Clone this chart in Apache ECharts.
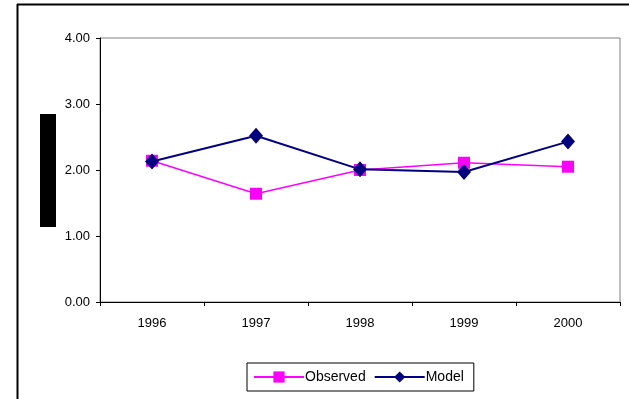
<!DOCTYPE html>
<html>
<head>
<meta charset="utf-8">
<script src="https://cdn.jsdelivr.net/npm/echarts@6/dist/echarts.min.js"></script>
<style>html,body{margin:0;padding:0;background:#fff;}#c{width:629px;height:399px;}</style>
</head>
<body>
<div id="c"></div>
<script>
const categories = ['1996', '1997', '1998', '1999', '2000'];
const observed = [2.14, 1.64, 2.00, 2.11, 2.05];
const model = [2.13, 2.52, 2.01, 1.97, 2.43];
const yTicks = [0, 1, 2, 3, 4];

const chart = echarts.init(document.getElementById('c'), null, {renderer: 'canvas'});
const font = 'Liberation Sans, Arial, sans-serif';
chart.setOption({
  animation: false,
  backgroundColor: '#fff',
  grid: {left: 100, top: 38, right: 9, bottom: 97, show: true, borderColor: '#808080', borderWidth: 1, backgroundColor: 'transparent'},
  xAxis: {
    type: 'category', data: categories, boundaryGap: true,
    axisLine: {lineStyle: {color: '#000', width: 1}},
    axisTick: {show: true, length: 4, lineStyle: {color: '#000'}},
    axisLabel: {color: '#000', fontFamily: font, fontSize: 13, margin: 15}
  },
  yAxis: {
    type: 'value', min: yTicks[0], max: yTicks[yTicks.length - 1], interval: 1,
    axisLine: {show: true, lineStyle: {color: '#000', width: 1}},
    axisTick: {show: true, length: 4, lineStyle: {color: '#000'}},
    splitLine: {show: false},
    axisLabel: {color: '#000', fontFamily: font, fontSize: 13, margin: 10, formatter: v => v.toFixed(2)}
  },
  legend: {
    left: 247, top: 363, orient: 'horizontal',
    borderColor: '#000', borderWidth: 1, padding: [7, 10, 7, 6],
    itemWidth: 50, itemHeight: 14, itemGap: 8,
    textStyle: {color: '#000', fontFamily: font, fontSize: 14, padding: [0, 0, 0, -4]},
    data: ['Observed', 'Model']
  },
  series: [
    {name: 'Observed', type: 'line', data: observed, symbol: 'rect', symbolSize: 12,
     itemStyle: {color: '#FF00FF'}, lineStyle: {color: '#FF00FF', width: 1.5}, z: 2},
    {name: 'Model', type: 'line', data: model, symbol: 'diamond', symbolSize: [14, 16],
     itemStyle: {color: '#000080'}, lineStyle: {color: '#000080', width: 2}, z: 3}
  ],
  graphic: [
    {type: 'line', shape: {x1: 17, y1: 4.5, x2: 629, y2: 4.5}, style: {stroke: '#000', lineWidth: 2}},
    {type: 'line', shape: {x1: 17.5, y1: 4, x2: 17.5, y2: 399}, style: {stroke: '#000', lineWidth: 2}},
    {type: 'rect', shape: {x: 40, y: 114, width: 16, height: 113}, style: {fill: '#000'}}
  ]
});
</script>
</body>
</html>
